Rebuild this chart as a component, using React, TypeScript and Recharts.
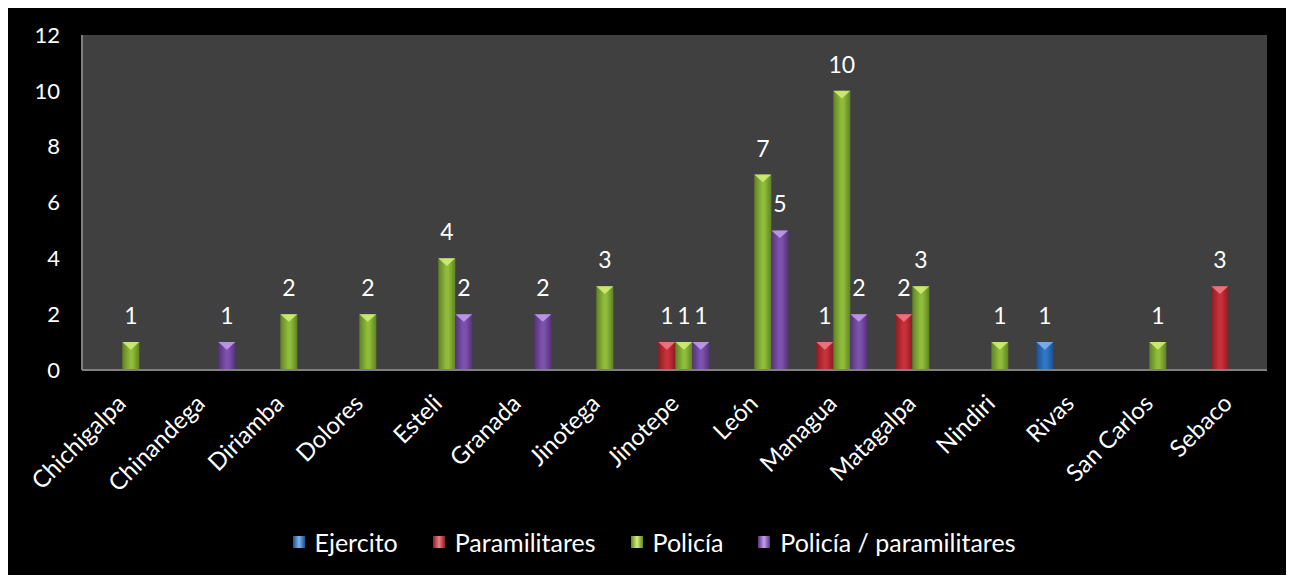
import React from 'react';
import {
  BarChart,
  Bar,
  XAxis,
  YAxis,
  CartesianGrid,
  Legend,
  LabelList,
} from 'recharts';

const cities = [
  'Chichigalpa',
  'Chinandega',
  'Diriamba',
  'Dolores',
  'Esteli',
  'Granada',
  'Jinotega',
  'Jinotepe',
  'León',
  'Managua',
  'Matagalpa',
  'Nindiri',
  'Rivas',
  'San Carlos',
  'Sebaco',
];

const ejercito = [null, null, null, null, null, null, null, null, null, null, null, null, 1, null, null];
const paramilitares = [null, null, null, null, null, null, null, 1, null, 1, 2, null, null, null, 3];
const policia = [1, null, 2, 2, 4, null, 3, 1, 7, 10, 3, 1, null, 1, null];
const policiaParam = [null, 1, null, null, 2, 2, null, 1, 5, 2, null, null, null, null, null];

const yTicks = [0, 2, 4, 6, 8, 10, 12];

const SERIES = [
  { key: 'ejercito', name: 'Ejercito', color: '#2f77c6', light: '#7fb6ee', dark: '#1d4f8a' },
  { key: 'paramilitares', name: 'Paramilitares', color: '#c9303a', light: '#ef7f86', dark: '#8c1c22' },
  { key: 'policia', name: 'Policía', color: '#8fbc3a', light: '#d4f07a', dark: '#5f8224' },
  { key: 'policiaParam', name: 'Policía / paramilitares', color: '#7d52ad', light: '#c6a0ee', dark: '#54327a' },
];

const data = cities.map((c, i) => ({
  city: c,
  ejercito: ejercito[i],
  paramilitares: paramilitares[i],
  policia: policia[i],
  policiaParam: policiaParam[i],
}));

const FONT = 'Lato, "Open Sans", sans-serif';

const BevelBar = (props: any) => {
  const { x, y, width, height, s } = props;
  if (!height || height <= 0) return null;
  const tri = Math.min(width * 0.45, height);
  return (
    <g>
      <rect x={x} y={y} width={width} height={height} fill={`url(#grad-${s.key})`} />
      <polygon
        points={`${x},${y} ${x + width},${y} ${x + width / 2},${y + tri}`}
        fill={s.light}
        opacity={0.85}
      />
    </g>
  );
};

const ValueLabel = (props: any) => {
  const { x, y, width, value } = props;
  if (value === null || value === undefined) return null;
  return (
    <text
      x={x + width / 2}
      y={y - 18}
      textAnchor='middle'
      fill='#ffffff'
      fontSize={23}
      fontFamily={FONT}
    >
      {value}
    </text>
  );
};

const CityTick = ({ x, y, payload }: any) => {
  return (
    <g transform={`translate(${x + 6},${y + 35})`}>
      <text
        x={0}
        y={0}
        textAnchor='end'
        transform='rotate(-45)'
        fill='#ffffff'
        fontSize={24}
        fontFamily={FONT}
      >
        {payload.value}
      </text>
    </g>
  );
};

const CustomLegend = () => {
  return (
    <div
      style={{
        display: 'flex',
        justifyContent: 'center',
        alignItems: 'center',
        gap: '35px',
        paddingLeft: 14,
        fontFamily: FONT,
        fontSize: 25,
        lineHeight: '28px',
        color: '#ffffff',
      }}
    >
      {SERIES.map((s) => (
        <div key={s.key} style={{ display: 'flex', alignItems: 'center', gap: '10px' }}>
          <div
            style={{
              width: 12,
              height: 12,
              background: `linear-gradient(90deg, ${s.dark}, ${s.light}, ${s.dark})`,
            }}
          ></div>
          <span>{s.name}</span>
        </div>
      ))}
    </div>
  );
};

export default function App() {
  return (
    <div style={{ width: 1278, height: 569, background: '#000000', marginTop: -2 }}>
      <BarChart
        width={1278}
        height={569}
        data={data}
        margin={{ top: 29, right: 19, bottom: 37, left: 0 }}
        barGap={0}
        barCategoryGap='8%'
      >
        <defs>
          {SERIES.map((s) => (
            <linearGradient key={s.key} id={`grad-${s.key}`} x1='0' y1='0' x2='1' y2='0'>
              <stop offset='0%' stopColor={s.dark} />
              <stop offset='45%' stopColor={s.color} />
              <stop offset='60%' stopColor={s.color} />
              <stop offset='100%' stopColor={s.dark} />
            </linearGradient>
          ))}
        </defs>
        <CartesianGrid horizontal={false} vertical={false} fill='#404040' />
        <XAxis
          dataKey='city'
          interval={0}
          height={140}
          tickLine={false}
          tickSize={0}
          tickMargin={0}
          axisLine={{ stroke: '#808080', strokeWidth: 2 }}
          tick={<CityTick />}
        />
        <YAxis
          width={74}
          domain={[0, 12]}
          ticks={yTicks}
          tickLine={false}
          tickSize={0}
          tickMargin={22}
          axisLine={{ stroke: '#808080', strokeWidth: 2 }}
          tick={{ fill: '#ffffff', fontSize: 22, fontFamily: FONT }}
        />
        <Legend
          content={<CustomLegend />}
          wrapperStyle={{ top: 522, left: 0, width: 1278 }}
        />
        {SERIES.map((s) => (
          <Bar
            key={s.key}
            dataKey={s.key}
            name={s.name}
            fill={s.color}
            isAnimationActive={false}
            shape={(p: any) => <BevelBar {...p} s={s} />}
          >
            <LabelList dataKey={s.key} content={<ValueLabel />} />
          </Bar>
        ))}
      </BarChart>
    </div>
  );
}
